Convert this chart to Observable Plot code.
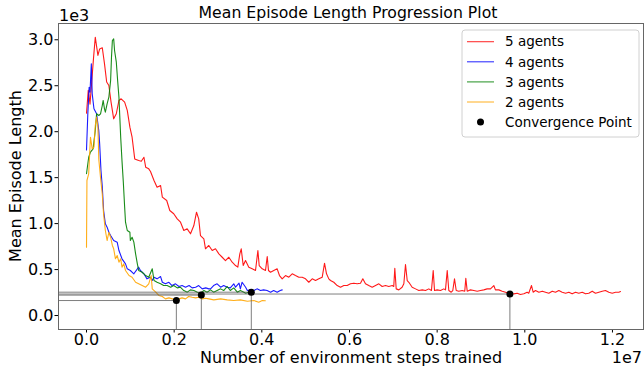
<!DOCTYPE html>
<html><head><meta charset="utf-8">
<script src="https://cdn.jsdelivr.net/npm/d3@7"></script>
<script src="https://cdn.jsdelivr.net/npm/@observablehq/plot@0.6"></script>
<style>body{margin:0;background:#fff;} svg{display:block;}</style>
</head><body><div id="chart"></div>
<script>
// x values are environment steps in units of 1e7; y values are mean episode length
const steps5 = [0.000,0.004,0.008,0.012,0.016,0.020,0.026,0.030,0.036,0.041,0.046,0.051,0.056,0.062,0.068,0.074,0.079,0.087,0.093,0.099,0.104,0.110,0.119,0.125,0.131,0.135,0.142,0.146,0.154,0.161,0.169,0.173,0.183,0.190,0.199,0.207,
0.2145,0.222,0.2297,0.2373,0.2449,0.251,0.256,0.260,0.2677,0.2715,0.279,0.2868,0.2943,0.302,0.3096,0.317,0.3247,0.3324,0.340,0.3452,0.3498,0.353,0.3575,0.3628,0.3703,0.378,0.3856,0.391,0.394,0.4009,0.4084,0.4123,0.4152,0.4198,0.4273,0.435,0.4403,0.4465,0.454,0.4616,0.4693,0.4768,0.4844,0.4921,0.4997,0.5072,0.515,0.5225,0.530,0.5378,0.543,0.5476,0.5528,
0.5567,0.5642,0.572,0.5795,0.587,0.5948,0.6023,0.610,0.6176,0.6251,0.6304,0.6365,0.644,0.6518,0.6594,0.667,0.6746,0.6822,0.6897,0.6975,0.701,0.7034,0.7066,0.7126,0.720,0.724,0.7278,0.7317,0.7354,0.743,0.7506,0.7582,0.766,0.7734,0.781,0.787,0.791,0.794,0.800,0.8077,0.8152,0.819,0.823,0.8266,0.832,0.8357,0.8396,0.8435,0.8494,0.857,0.863,0.8654,0.8686,0.876,0.8837,0.8914,
0.899,0.9065,0.914,0.9217,0.9293,0.933,0.9407,0.9484,0.956,0.9635,0.9674,0.975,0.9826,0.990,0.9978,1.0054,1.009,1.0153,1.019,1.0244,1.032,1.040,1.0472,1.0548,1.0625,1.070,1.0776,1.0853,1.093,1.1004,1.108,1.1157,1.1232,1.131,1.1385,1.146,1.1538,1.1613,1.169,1.1766,1.184,1.1917,1.1994,1.207,1.2145,1.2183];
const len5 = [2200,2450,2300,2550,2800,3028,2830,2900,2913,2740,2540,2503,2321,2140,2195,2340,2358,2321,2231,2049,1940,1704,1687,1679,1722,1614,1596,1567,1469,1396,1415,1288,1251,1143,1107,1052,
1015,925,943,889,979,1124,1052,870,835,726,762,707,726,671,634,598,634,580,544,526,671,726,544,598,526,508,490,707,544,508,490,642,490,471,490,508,435,399,435,417,454,435,417,417,399,362,399,381,399,417,569,454,399,
381,362,326,308,326,326,345,352,345,352,399,345,326,308,326,345,316,326,316,326,316,515,290,279,308,345,555,381,362,308,290,272,279,272,290,272,490,272,279,272,290,279,490,272,254,272,399,272,265,272,265,406,265,279,272,265,
272,279,290,290,326,279,279,265,254,243,228,236,243,228,236,254,243,326,254,272,254,265,254,243,265,254,272,254,243,254,236,254,243,254,236,243,265,243,254,265,272,254,243,254,254,261];

const steps4 = [0.000,0.003,0.006,0.008,0.011,0.013,0.017,0.023,0.028,0.030,0.033,0.036,0.039,0.043,0.047,0.051,0.055,0.062,0.070,0.074,0.081,0.089,0.093,0.100,0.108,0.119,0.123,0.131,0.138,0.146,0.150,0.154,0.161,0.169,0.173,0.180,0.188,0.195,0.203,0.211,0.218,0.226,0.234,0.241,0.249,0.256,0.264,0.272,0.279,0.283,0.290,0.298,0.306,0.313,0.321,0.328,0.336,0.340,0.348,0.351,0.355,0.363,0.367,0.374,0.382,0.389,0.397,0.404,0.412,0.420,0.427,0.435,0.442,0.4465];
const len4 = [1800,2195,2484,2430,2739,2412,2249,2195,2013,1868,1578,1400,1143,998,961,906,870,816,798,707,617,562,508,490,454,526,490,454,399,417,381,417,399,424,362,345,362,326,345,316,326,308,326,301,308,326,290,301,290,290,326,345,308,326,308,301,345,308,352,290,362,308,272,279,272,290,272,279,272,254,272,254,272,279];

const steps3 = [0.000,0.005,0.009,0.015,0.020,0.023,0.028,0.032,0.036,0.038,0.041,0.043,0.047,0.051,0.055,0.057,0.059,0.062,0.064,0.068,0.071,0.074,0.076,0.078,0.081,0.084,0.087,0.089,0.093,0.099,0.100,0.104,0.108,0.112,0.116,0.119,0.127,0.135,0.142,0.150,0.154,0.161,0.169,0.176,0.184,0.192,0.199,0.207,0.214,0.222,0.230,0.237,0.245,0.253,0.260,0.268,0.275,0.283,0.290,0.298,0.306,0.313,0.321,0.328,0.336,0.344,0.351,0.359,0.363,0.370,0.376];
const len3 = [1542,1722,1777,1813,2013,2195,2176,2195,2285,2340,2249,2212,2303,2375,2557,2810,2992,3010,2883,2756,2557,2375,2158,1940,1680,1450,1180,1015,925,906,816,852,798,671,562,490,471,435,417,508,381,362,345,326,326,308,326,301,308,272,254,279,272,254,243,272,254,279,254,272,290,272,316,272,301,254,272,254,243,250,245];

const steps2 = [0.000,0.001,0.005,0.009,0.013,0.017,0.020,0.023,0.026,0.028,0.032,0.036,0.039,0.043,0.047,0.051,0.055,0.059,0.062,0.066,0.070,0.074,0.078,0.081,0.085,0.089,0.097,0.104,0.112,0.119,0.127,0.135,0.142,0.1475,0.150,0.158,0.165,0.173,0.180,0.188,0.196,0.203,0.211,0.218,0.226,0.233,0.241,0.249,0.256,0.264,0.272,0.279,0.2905,0.306,0.321,0.336,0.351,0.367,0.382,0.393,0.401,0.408];
const len2 = [743,1469,1542,1940,1813,1831,2067,2158,2049,1700,1500,1320,1100,925,816,906,852,762,726,617,653,580,617,526,562,490,435,417,362,345,326,308,345,435,290,254,218,207,181,192,181,170,181,192,181,207,199,192,199,181,188,181,170,181,170,163,170,156,163,145,163,160];

const seriesNames = ["5 agents","4 agents","3 agents","2 agents"];
const seriesColors = ["#ff0000","#0000ff","#008000","#ffa500"];
const convX = [0.205, 0.262, 0.376, 0.966];
const convY = [163, 222, 254, 234];
const xTicks = [0, 0.2, 0.4, 0.6, 0.8, 1.0, 1.2];
const yTicks = [0, 500, 1000, 1500, 2000, 2500, 3000];

const xDom = [-0.0639, 1.2708];
const yDom = [-152, 3177];

const mk = (xs, ys) => xs.map((x, i) => ({x, y: ys[i]}));
const series = [mk(steps5, len5), mk(steps4, len4), mk(steps3, len3), mk(steps2, len2)];
const conv = convX.map((x, i) => ({x, y: convY[i]}));

const chart = Plot.plot({
  width: 644, height: 370,
  marginLeft: 58, marginRight: 1, marginTop: 23, marginBottom: 41,
  style: {fontFamily: "DejaVu Sans", fontSize: "16px", color: "black", background: "white", overflow: "visible"},
  x: {domain: xDom},
  y: {domain: yDom},
  marks: [
    ...series.map((d, i) => Plot.line(d, {x: "x", y: "y", stroke: seriesColors[i], strokeWidth: 1.1, strokeOpacity: 0.9})),
    Plot.ruleY(conv, {y: "y", x1: () => xDom[0], x2: "x", stroke: "#555", strokeWidth: 0.9, strokeOpacity: 0.85}),
    Plot.ruleX(conv, {x: "x", y1: () => yDom[0], y2: "y", stroke: "#555", strokeWidth: 0.9, strokeOpacity: 0.85}),
    Plot.dot(conv, {x: "x", y: "y", r: 3.5, fill: "black"}),
    Plot.axisX({ticks: xTicks, tickFormat: d => d.toFixed(1), tickSize: 3.5, tickPadding: 1, label: null, fontSize: 16}),
    Plot.axisY({ticks: yTicks, tickFormat: d => (d / 1000).toFixed(1), tickSize: 3.5, tickPadding: 1.5, label: null, fontSize: 16}),
    Plot.frame({stroke: "#666"})
  ]
});
document.getElementById("chart").append(chart);

const svg = d3.select(chart);
const txt = (x, y, s, size, anchor) => svg.append("text").attr("x", x).attr("y", y)
  .attr("font-family", "DejaVu Sans").attr("font-size", size).attr("text-anchor", anchor || "start")
  .attr("fill", "black").text(s);
txt(348, 18, "Mean Episode Length Progression Plot", 15.7, "middle");
txt(59, 20.5, "1e3", 16);
txt(642, 362.5, "1e7", 16, "end");
txt(351, 363, "Number of environment steps trained", 16, "middle");
svg.append("text").attr("transform", "translate(21,176) rotate(-90)")
  .attr("font-family", "DejaVu Sans").attr("font-size", 16).attr("text-anchor", "middle")
  .attr("fill", "black").text("Mean Episode Length");

// legend
const lg = svg.append("g");
lg.append("rect").attr("x", 462).attr("y", 30).attr("width", 177).attr("height", 107)
  .attr("rx", 3).attr("fill", "white").attr("fill-opacity", 0.85).attr("stroke", "#d0d0d0");
const legendNames = [...seriesNames, "Convergence Point"];
legendNames.forEach((name, i) => {
  const y = 41.7 + i * 20.1;
  if (i < 4) {
    lg.append("line").attr("x1", 467).attr("x2", 494).attr("y1", y).attr("y2", y)
      .attr("stroke", seriesColors[i]).attr("stroke-width", 1.1).attr("stroke-opacity", 0.8);
  } else {
    lg.append("circle").attr("cx", 480.5).attr("cy", y).attr("r", 3.5).attr("fill", "black");
  }
  lg.append("text").attr("x", 505).attr("y", y).attr("dy", "0.35em").attr("text-anchor", "start")
    .attr("font-family", "DejaVu Sans").attr("font-size", 13.5).attr("fill", "black").text(name);
});
</script>
</body></html>
